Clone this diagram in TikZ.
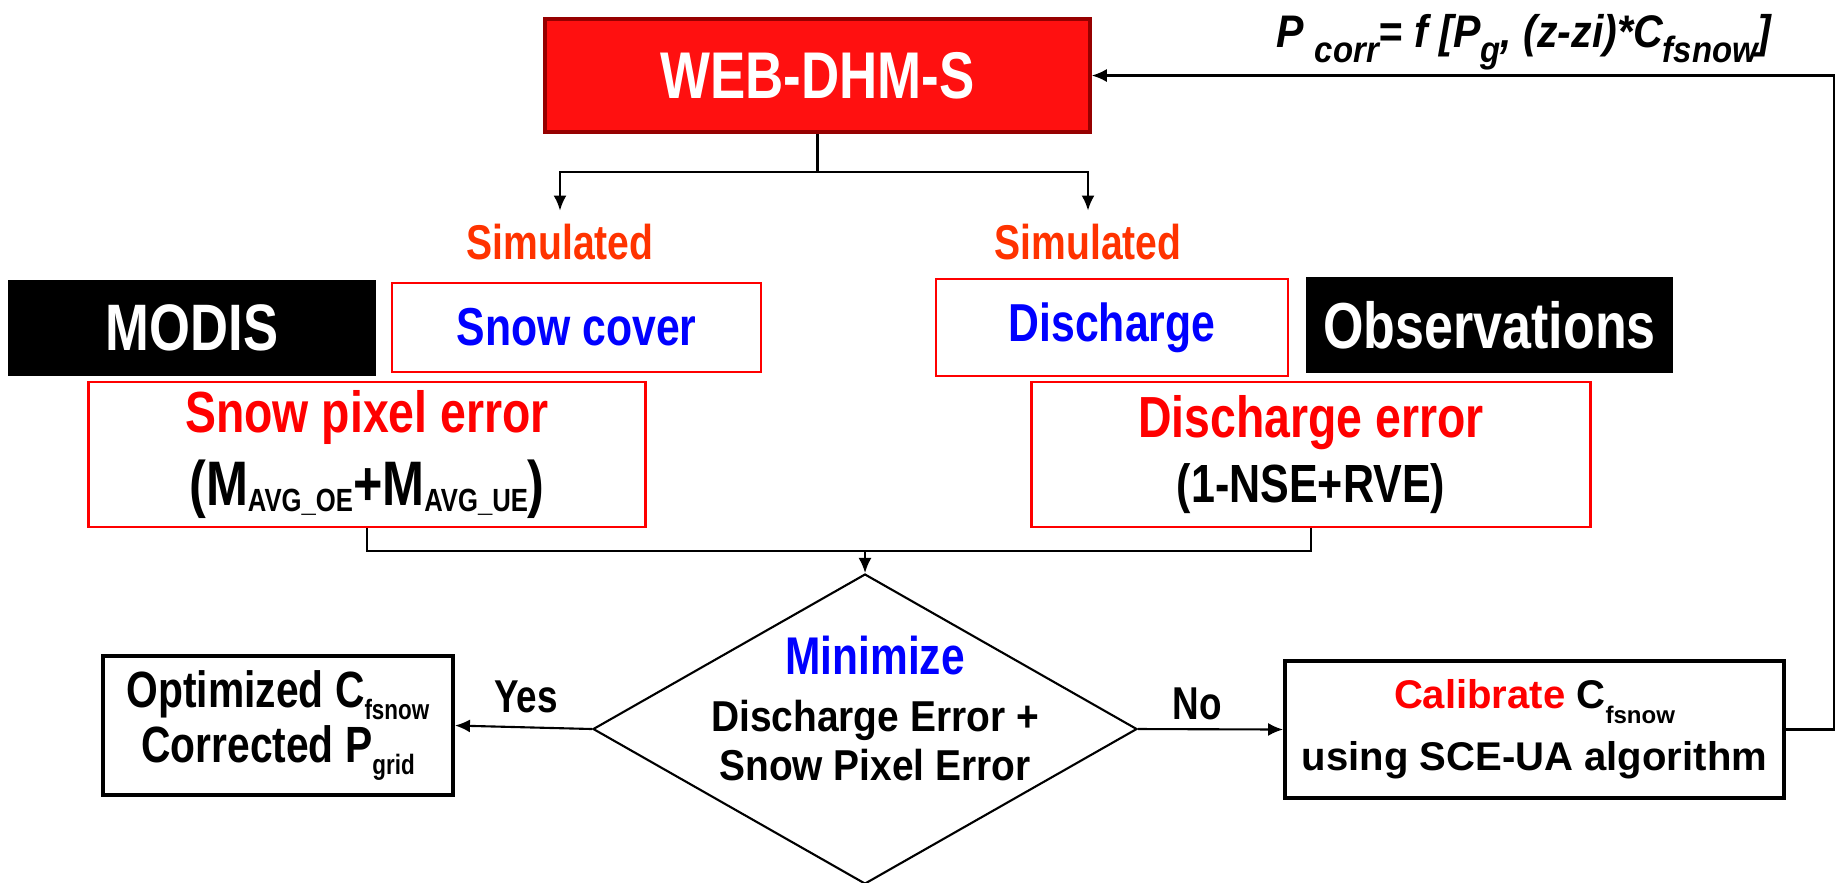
\documentclass[tikz,border=0pt]{standalone}
\usepackage{fontspec}
\setmainfont{Liberation Sans}
\newfontfamily\narrowsf{Liberation Sans}[FakeStretch=0.8]
\newfontfamily\semisf{Liberation Sans}[FakeStretch=0.9]
\newfontfamily\redsf{Liberation Sans}[Color=FF0000]
\usepackage{graphicx}
\usetikzlibrary{shapes.geometric,arrows.meta}
\definecolor{webred}{RGB}{255,16,16}
\definecolor{webedge}{RGB}{150,0,0}
\definecolor{simcol}{RGB}{255,51,0}
\definecolor{txtblue}{RGB}{0,0,255}
\definecolor{txtred}{RGB}{255,0,0}
\NewDocumentCommand{\dsub}{O{0.6} O{0.25em} m}{\raisebox{-#2}{\scalebox{#1}{#3}}}

\begin{document}
\begin{tikzpicture}[>={Latex[length=1.5mm,width=1.3mm]},line width=0.6pt,
	  redbox/.style={draw=txtred,line width=0.8pt,inner sep=0pt,align=center},
	  blackbox/.style={fill=black,text=white,inner sep=0pt},
	  stepbox/.style={draw,line width=1.1pt,inner sep=0pt,align=center,text=black},
	  simtxt/.style={text=simcol,inner xsep=0pt,inner ysep=1.3mm,font=\narrowsf\bfseries\fontsize{13.9}{16}\selectfont},
	  lbl/.style={inner sep=0pt,font=\narrowsf\bfseries\fontsize{13.1}{16}\selectfont}]
	  \useasboundingbox (0,0) rectangle (18.39,-8.82);
	  \node[draw=webedge,line width=1pt,fill=webred,text=white,minimum width=5.45cm,minimum height=1.13cm,inner sep=0pt,font=\narrowsf\bfseries\fontsize{18.8}{22}\selectfont] (web) at (8.175,-0.755) {WEB-DHM-S};
	  \node[anchor=base west,inner sep=0pt,font=\semisf\bfseries\itshape\fontsize{13}{15}\selectfont] (frm) at (12.75,-0.47) {P \dsub[0.8][0.34em]{corr}= f [P\dsub[0.8][0.34em]{g}, (z-zi)*C\dsub[0.8][0.34em]{fsnow}]};
	  \node[simtxt] (sim1) at (5.60,-2.425) {Simulated};
	  \node[simtxt] (sim2) at (10.88,-2.425) {Simulated};
	  \node[blackbox,minimum width=3.68cm,minimum height=0.96cm,font=\narrowsf\bfseries\fontsize{18.7}{22}\selectfont] (modis) at (1.92,-3.28) {MODIS};
	  \node[redbox,minimum width=3.69cm,minimum height=0.89cm,text=txtblue,font=\narrowsf\bfseries\fontsize{15.2}{18}\selectfont] (snow) at (5.765,-3.275) {Snow cover};
	  \node[redbox,minimum width=3.52cm,minimum height=0.97cm,text=txtblue,font=\narrowsf\bfseries\fontsize{15.2}{18}\selectfont] (disq) at (11.12,-3.275) {Discharge};
	  \node[blackbox,minimum width=3.67cm,minimum height=0.96cm,font=\narrowsf\bfseries\fontsize{18.5}{22}\selectfont] (obs) at (14.895,-3.25) {Observations};
	  \node[redbox,minimum width=5.575cm,minimum height=1.45cm,font=\narrowsf\bfseries\fontsize{16.5}{20.5}\selectfont] (pix) at (3.67,-4.545) {\textcolor{txtred}{Snow pixel error}\\{\fontsize{17.9}{20.5}\selectfont (M\dsub[0.51][0.11em]{AVG\_OE}+M\dsub[0.51][0.11em]{AVG\_UE})}};
	  \node[redbox,minimum width=5.585cm,minimum height=1.45cm,font=\narrowsf\bfseries\fontsize{16.5}{18.5}\selectfont] (qerr) at (13.11,-4.545) {\textcolor{txtred}{Discharge error}\\{\fontsize{15.3}{18.5}\selectfont (1-NSE+RVE)}};
	  \node[diamond,draw,minimum width=5.44cm,minimum height=3.10cm,inner sep=0pt] (dia) at (8.65,-7.29) {};
	  \node[align=center,inner sep=0pt,font=\semisf\bfseries\fontsize{12.3}{14}\selectfont] (dtxt) at (8.75,-7.085) {{\narrowsf\fontsize{15.1}{14}\selectfont\textcolor{txtblue}{Minimize}}\\[2pt]Discharge Error +\\Snow Pixel Error};
	  \node[stepbox,minimum width=3.50cm,minimum height=1.39cm,font=\narrowsf\bfseries\fontsize{14.5}{15.6}\selectfont] (opt) at (2.78,-7.255) {Optimized C\dsub[0.55][0.24em]{fsnow}\\Corrected P\dsub[0.55][0.24em]{grid}};
	  \node[stepbox,minimum width=4.99cm,minimum height=1.37cm,font=\bfseries\fontsize{11.4}{17.6}\selectfont] (cal) at (15.345,-7.295) {{\redsf Calibrate} C\dsub[0.6][0.37em]{fsnow}\\using SCE-UA algorithm};
	  \node[lbl] (yes) at (5.26,-6.965) {Yes};
	  \node[lbl] (no) at (11.97,-7.035) {No};
	  \coordinate (j1) at (8.175,-1.72);
	  \coordinate (j2) at (8.65,-5.51);
	  \draw (web.south) -- (j1);
	  \draw[->] (j1) -| (sim1.north);
	  \draw[->] (j1) -| (sim2.north);
	  \draw (pix.south) |- (j2) -| (qerr.south);
	  \draw[->] (j2) -- (dia.north);
	  \draw[->] (dia.west) -- (opt.east);
	  \draw[->] (dia.east) -- (cal.west);
	  \draw[->] (cal.east) -- ++(0.48,0) |- (web.east);
\end{tikzpicture}
\end{document}
